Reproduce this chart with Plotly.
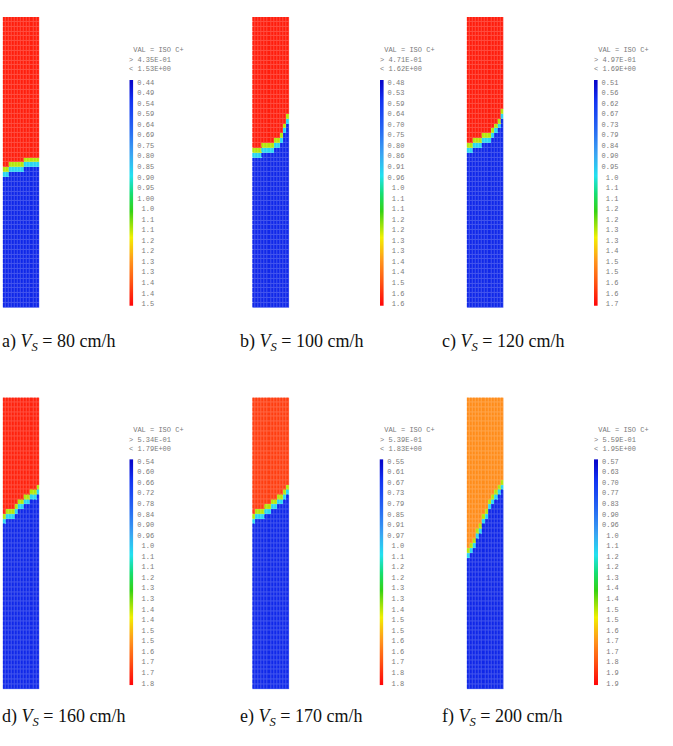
import numpy as np
import plotly.graph_objects as go

# ---------------- data ----------------
panel_letters = ["a", "b", "c", "d", "e", "f"]
velocities_cm_h = [80, 100, 120, 160, 170, 200]
iso_min = [0.435, 0.471, 0.497, 0.534, 0.539, 0.559]
iso_max = [1.53, 1.62, 1.69, 1.79, 1.83, 1.95]
iso_min_text = ["4.35E-01", "4.71E-01", "4.97E-01", "5.34E-01", "5.39E-01", "5.59E-01"]
iso_max_text = ["1.53E+00", "1.62E+00", "1.69E+00", "1.79E+00", "1.83E+00", "1.95E+00"]
upper_value = [1.50, 1.59, 1.66, 1.75, 1.74, 1.70]   # concentration above the front
lower_value = [0.50, 0.54, 0.57, 0.61, 0.62, 0.64]   # concentration below the front

N_ROWS = 60   # mesh rows (top -> bottom)
# front position (mesh row index) for each of the 12 mesh columns, left -> right
front_a = [32, 32, 31, 31, 31, 31, 31, 30, 30, 30, 30, 30]
front_b = [28, 28, 28, 27, 27, 27, 27, 26, 26, 25, 23, 21]
front_c = [27, 27, 26, 26, 26, 25, 25, 25, 24, 23, 22, 20]
front_d = [25, 24, 24, 24, 23, 22, 22, 21, 21, 20, 20, 19]
front_e = [25, 24, 24, 24, 23, 23, 22, 22, 21, 21, 20, 19]
front_f = [32, 31, 30, 28, 27, 25, 24, 22, 21, 20, 19, 18]
fronts = [front_a, front_b, front_c, front_d, front_e, front_f]

legend_a = ["0.44", "0.49", "0.54", "0.59", "0.64", "0.69", "0.75", "0.80", "0.85", "0.90", "0.95",
            "1.00", "1.0", "1.1", "1.1", "1.2", "1.2", "1.3", "1.3", "1.4", "1.4", "1.5"]
legend_b = ["0.48", "0.53", "0.59", "0.64", "0.70", "0.75", "0.80", "0.86", "0.91", "0.96",
            "1.0", "1.1", "1.1", "1.2", "1.2", "1.3", "1.3", "1.4", "1.4", "1.5", "1.6", "1.6"]
legend_c = ["0.51", "0.56", "0.62", "0.67", "0.73", "0.79", "0.84", "0.90", "0.95",
            "1.0", "1.1", "1.1", "1.2", "1.2", "1.3", "1.3", "1.4", "1.5", "1.5", "1.6", "1.6", "1.7"]
legend_d = ["0.54", "0.60", "0.66", "0.72", "0.78", "0.84", "0.90", "0.96",
            "1.0", "1.1", "1.1", "1.2", "1.3", "1.3", "1.4", "1.4", "1.5", "1.5", "1.6", "1.7", "1.7", "1.8"]
legend_e = ["0.55", "0.61", "0.67", "0.73", "0.79", "0.85", "0.91", "0.97",
            "1.0", "1.1", "1.2", "1.2", "1.3", "1.3", "1.4", "1.5", "1.5", "1.6", "1.6", "1.7", "1.8", "1.8"]
legend_f = ["0.57", "0.63", "0.70", "0.77", "0.83", "0.90", "0.96",
            "1.0", "1.1", "1.2", "1.2", "1.3", "1.4", "1.4", "1.5", "1.5", "1.6", "1.7", "1.7", "1.8", "1.9", "1.9"]
legends = [legend_a, legend_b, legend_c, legend_d, legend_e, legend_f]

# ---------------- style / layout ----------------
W, H = 673, 746
SCALE = [
    [0.00, "#0808cc"], [0.08, "#1232f2"], [0.20, "#2462f2"], [0.32, "#3aa2f2"],
    [0.42, "#22e2f0"], [0.50, "#14de74"], [0.58, "#34d214"], [0.70, "#f2f000"],
    [0.80, "#ff9a1c"], [0.90, "#ff5412"], [1.00, "#ff0a0a"],
]


def lighten(scale, f):
    out = []
    for p, c in scale:
        r, g, b = int(c[1:3], 16), int(c[3:5], 16), int(c[5:7], 16)
        r, g, b = [int(v + (255 - v) * f) for v in (r, g, b)]
        out.append([p, f"rgb({r},{g},{b})"])
    return out


LIGHT = lighten(SCALE, 0.22)

heat_box = [(2.7, 39.3, 16, 308), (252.3, 289.3, 16, 308), (466.7, 503.5, 16, 308),
            (2.7, 39.3, 398, 691), (252.3, 289.3, 398, 691), (466.7, 503.7, 398, 691)]
bar_box = [(129.3, 133.3, 79.3, 306), (380.0, 383.6, 79.3, 306), (594.0, 597.6, 79.3, 306),
           (129.3, 133.3, 460, 687), (379.5, 383.3, 460, 687), (594.0, 598.0, 460, 687)]
header_y = [(49.5, 59, 68.5)] * 3 + [(431, 440.5, 450)] * 3
caption_xy = [(1, 343), (239, 343), (441, 343), (1, 719), (239, 719), (441, 719)]

MONO = "Liberation Mono"
SERIF = "Liberation Serif"


def px_x(x):
    return x / W


def px_y(y):
    return 1 - y / H


fig = go.Figure()
layout = {}
annotations = []
ax = 0
for k in range(6):
    vmin, vmax = iso_min[k], iso_max[k]
    hi, lo = upper_value[k], lower_value[k]
    yel = vmin + 0.66 * (vmax - vmin)
    cya = vmin + 0.40 * (vmax - vmin)
    front = fronts[k]
    ncol = len(front)
    z = np.full((N_ROWS, ncol), lo)
    for j, f in enumerate(front):
        z[: f - 1, j] = hi
        z[f - 1, j] = yel
        z[f, j] = cya

    # --- field heatmap (light base for mesh lines + gapped cells) ---
    ax += 1
    xa, ya = ("x", "y") if ax == 1 else (f"x{ax}", f"y{ax}")
    for scale, gap in ((LIGHT, 0), (SCALE, 1)):
        fig.add_trace(go.Heatmap(
            z=z, x=list(range(ncol)), y=list(range(N_ROWS)),
            colorscale=scale, zmin=vmin, zmax=vmax, showscale=False,
            xgap=gap, ygap=gap, xaxis=xa, yaxis=ya, hoverinfo="skip"))
    x0, x1, y0, y1 = heat_box[k]
    sfx = "" if ax == 1 else str(ax)
    layout["xaxis" + sfx] = dict(domain=[px_x(x0), px_x(x1)], range=[-0.5, ncol - 0.5],
                                 visible=False, anchor="y" + sfx, fixedrange=True)
    layout["yaxis" + sfx] = dict(domain=[px_y(y1), px_y(y0)], range=[N_ROWS - 0.5, -0.5],
                                 visible=False, anchor="x" + sfx, fixedrange=True)

    # --- legend bar ---
    labels = legends[k]
    n = len(labels)
    ax += 1
    xa, ya = f"x{ax}", f"y{ax}"
    fig.add_trace(go.Heatmap(
        z=[[i, i] for i in range(n)], x=[0, 1], y=list(range(n)),
        colorscale=SCALE, zmin=0, zmax=n - 1, showscale=False, zsmooth="best",
        xaxis=xa, yaxis=ya, hoverinfo="skip"))
    x0, x1, y0, y1 = bar_box[k]
    sfx = str(ax)
    layout["xaxis" + sfx] = dict(domain=[px_x(x0), px_x(x1)], range=[0, 1],
                                 visible=False, anchor="y" + sfx, fixedrange=True)
    layout["yaxis" + sfx] = dict(
        domain=[px_y(y1), px_y(y0)], range=[n - 1 + 0.2, -0.2], anchor="x" + sfx,
        side="right", showgrid=False, zeroline=False, showline=False, ticks="",
        tickmode="array", tickvals=list(range(n)),
        ticktext=[("\u00a0" * (4 - len(t))) + t for t in labels],
        tickfont=dict(family=MONO, size=7, color="#7a7a7a"),
        ticklabelstandoff=3, fixedrange=True)

    # --- header text ---
    hy = header_y[k]
    for txt, yy in (("\u00a0VAL = ISO C+", hy[0]), ("> " + iso_min_text[k], hy[1]),
                    ("< " + iso_max_text[k], hy[2])):
        annotations.append(dict(x=px_x(x0 - 1), y=px_y(yy), xref="paper", yref="paper",
                                text=txt, showarrow=False, xanchor="left", yanchor="middle",
                                font=dict(family=MONO, size=7, color="#7a7a7a"),
                                borderpad=0))

    # --- caption ---
    cx, cy = caption_xy[k]
    annotations.append(dict(
        x=px_x(cx), y=px_y(cy), xref="paper", yref="paper", showarrow=False,
        xanchor="left", yanchor="middle", borderpad=0,
        text=f"{panel_letters[k]}) <i>V</i><sub><i>S</i></sub> = {velocities_cm_h[k]} cm/h",
        font=dict(family=SERIF, size=18, color="#111111")))

fig.update_layout(width=W, height=H, margin=dict(l=0, r=0, t=0, b=0),
                  paper_bgcolor="white", plot_bgcolor="white",
                  showlegend=False, annotations=annotations, **layout)
fig.write_html("out.html")
